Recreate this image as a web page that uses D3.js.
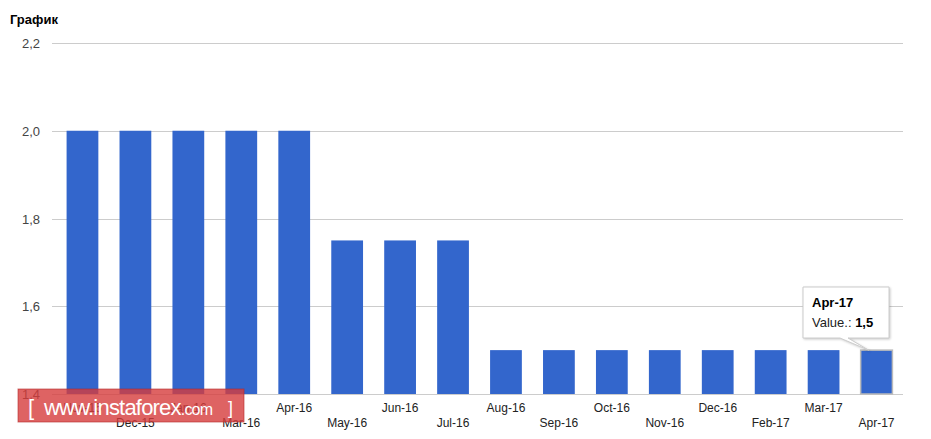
<!DOCTYPE html>
<html><head><meta charset="utf-8">
<script src="https://cdn.jsdelivr.net/npm/d3@7"></script>
<style>body{margin:0;background:#fff;font-family:Arial,"Liberation Sans",sans-serif}</style>
</head><body><svg id="c" width="931" height="439"></svg>
<script>
const categories=["Nov-15","Dec-15","Jan-16","Mar-16","Apr-16","May-16","Jun-16","Jul-16","Aug-16","Sep-16","Oct-16","Nov-16","Dec-16","Feb-17","Mar-17","Apr-17"];
const values=[2.0,2.0,2.0,2.0,2.0,1.75,1.75,1.75,1.5,1.5,1.5,1.5,1.5,1.5,1.5,1.5];
const yTicks=[1.4,1.6,1.8,2.0,2.2];
const yTickLabels=["1,4","1,6","1,8","2,0","2,2"];
const svg=d3.select("#c");
const x=d3.scaleBand().domain(categories).range([56,903]).paddingInner(0.4).paddingOuter(0.2);
const y=d3.scaleLinear().domain([1.4,2.2]).range([394,43]);
svg.append("text").attr("x",10).attr("y",24).attr("font-size",13).attr("font-weight","bold").attr("fill","#000").text("График");
const g=svg.append("g");
g.selectAll("line.grid").data(yTicks).join("line").attr("x1",52).attr("x2",903)
 .attr("y1",d=>Math.round(y(d))+0.5).attr("y2",d=>Math.round(y(d))+0.5).attr("stroke","#ccc");
g.selectAll("text.yl").data(yTicks).join("text").attr("x",40).attr("y",d=>y(d)+5).attr("text-anchor","end")
 .attr("font-size",13).attr("fill","#444").text((d,i)=>yTickLabels[i]);
g.selectAll("rect.bar").data(values).join("rect").attr("x",(d,i)=>x(categories[i])).attr("width",x.bandwidth())
 .attr("y",d=>y(d)).attr("height",d=>y(1.4)-y(d)).attr("fill","#3366cc")
 .attr("stroke",(d,i)=>i===categories.length-1?"#bbb":"none").attr("stroke-width",1.5);
g.selectAll("text.xl").data(categories).join("text").attr("x",d=>x(d)+x.bandwidth()/2)
 .attr("y",(d,i)=>i%2===0?412:427).attr("text-anchor","middle").attr("font-size",12).attr("fill","#222").text(d=>d);
const last=categories[categories.length-1];
const bx=x(last)+x.bandwidth()/2;
const tg=svg.append("g");
tg.append("path").attr("d",`M803,287 H889 V338 H848 L${bx-8},${y(1.5)} L840,338 H803 Z`)
 .attr("fill","#fff").attr("stroke","#ccc").attr("filter","drop-shadow(1px 1px 1px rgba(0,0,0,0.2))");
tg.append("text").attr("x",812).attr("y",307).attr("font-size",13).attr("font-weight","bold").text(last);
const t2=tg.append("text").attr("x",812).attr("y",327).attr("font-size",13).attr("fill","#222");
t2.append("tspan").text("Value.: ");t2.append("tspan").attr("font-weight","bold").attr("fill","#000").text("1,5");
const w=svg.append("g");
w.append("rect").attr("x",18).attr("y",389).attr("width",226).attr("height",33).attr("fill","rgba(214,60,60,0.8)").attr("stroke","rgba(180,40,40,0.6)");
w.append("text").attr("x",28).attr("y",415).attr("font-size",22).attr("fill","#fff").text("[");
w.append("text").attr("x",44).attr("y",415).attr("font-size",22).attr("fill","#fff").attr("letter-spacing","-0.8")
 .text("www.instaforex").append("tspan").attr("font-size",16).text(".com");
w.append("text").attr("x",228).attr("y",414).attr("font-size",18).attr("fill","#fff").text("]");
</script></body></html>
